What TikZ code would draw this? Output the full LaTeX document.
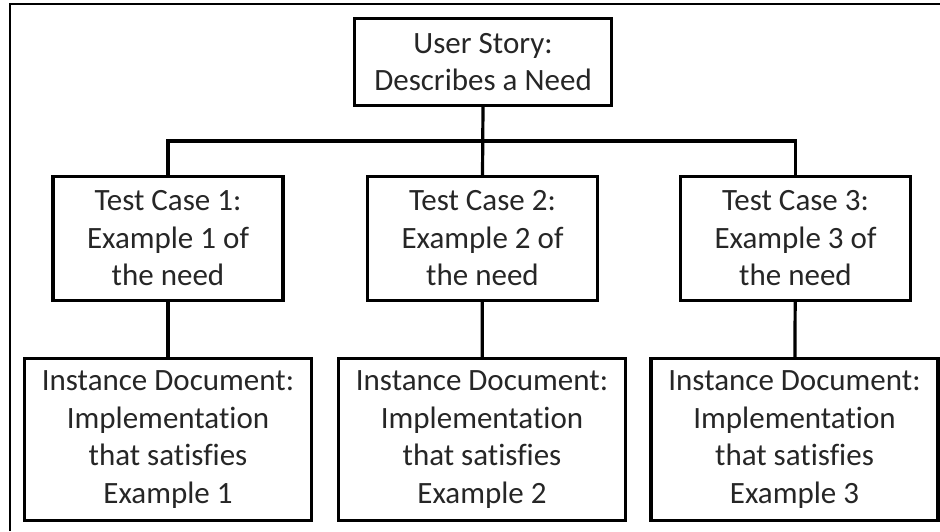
\documentclass[tikz,border=0pt]{standalone}
\usepackage{fontspec}
\setmainfont{Carlito}[Ligatures=NoCommon]
\usepackage{xcolor}
\usepackage{tikz}
\usetikzlibrary{positioning}

\begin{document}
\begin{tikzpicture}[
    x=1pt, y=-1pt,
    box/.style={rectangle, draw, line width=3.2pt, align=center, text=black!85,
        inner sep=0pt, font=\fontsize{31}{37.5}\selectfont},
    story/.style={box, minimum width=257pt, minimum height=87pt},
    testcase/.style={box, minimum width=230pt, minimum height=124pt},
    instance/.style={box, minimum width=287pt, minimum height=162pt},
    link/.style={line width=3.2pt}
]
    \useasboundingbox (0,0) rectangle (940,531);
    % Frame
    \draw[line width=2pt] (10,531) -- (10,4) -- (940,4);

    % User Story
    \node[story] (story) at (483,62) {User Story:\\Describes a Need};

    % Test Cases
    \node[testcase] (case1) at (168,238.5) {Test Case 1:\\Example 1 of\\the need};
    \node[testcase] (case2) at (482.5,238.5) {Test Case 2:\\Example 2 of\\the need};
    \node[testcase] (case3) at (795.5,238.5) {Test Case 3:\\Example 3 of\\the need};

    % Instance Documents
    \node[instance] (inst1) at (168,439.5) {Instance Document:\\Implementation\\that satisfies\\Example 1};
    \node[instance] (inst2) at (482,439.5) {Instance Document:\\Implementation\\that satisfies\\Example 2};
    \node[instance] (inst3) at (794.5,439.5) {Instance Document:\\Implementation\\that satisfies\\Example 3};

    % Connectors
    \coordinate (bus) at (482.5,141);
    \draw[link] (story.south) -- (case2.north);
    \draw[link] (case1.north) |- (bus) -| (case3.north);
    \draw[link] (case1) -- (inst1);
    \draw[link] (case2) -- (inst2);
    \draw[link] (case3) -- (inst3);
\end{tikzpicture}
\end{document}
